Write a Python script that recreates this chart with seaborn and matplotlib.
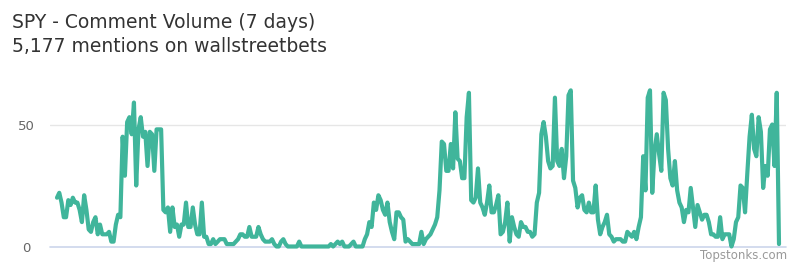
import numpy as np
import pandas as pd
import matplotlib
matplotlib.use("Agg")
import matplotlib.pyplot as plt
import seaborn as sns

title = "SPY - Comment Volume (7 days)"
subtitle = "5,177 mentions on wallstreetbets"
watermark = "Topstonks.com"
y_ticks = [0, 50]

seg_a = [20, 22, 18, 12, 12, 19, 17, 20, 18, 18, 15, 10, 21, 15, 7, 6, 10, 12, 5, 9,
         5, 5, 5, 6, 2, 2, 9, 13, 12, 45, 29, 51, 53, 46, 59, 25, 48, 53, 45, 47,
         33, 47, 46, 31, 48, 48, 48, 15]
seg_b = [14, 16, 6, 16, 8, 9, 4, 9, 9, 18, 8, 8, 16, 9, 5, 5, 18, 4, 4, 1,
         1, 3, 1, 2, 3, 3, 3, 1, 1, 1, 1, 2, 3, 5, 5, 4, 4, 8, 4, 4,
         4, 8, 5, 3, 2, 2, 2, 3, 1, 0, 0, 2, 3, 1, 0, 0, 0, 0, 0, 2]
seg_c = [0, 0, 0, 0, 0, 0, 0, 0, 0, 0, 0, 0, 0, 1, 0, 1, 2, 1, 2, 0, 0,
         0, 1, 2, 0, 0, 0, 0, 3, 5, 10, 8, 18, 15, 21, 19, 15, 13, 18, 10, 6,
         3, 14, 14, 12, 11, 2, 3]
seg_d = [2, 1, 1, 1, 1, 6, 1, 3, 4, 5, 7, 9, 12, 23, 43, 42, 31, 31, 42, 32, 55,
         36, 35, 28, 28, 53, 63, 19, 18, 20, 32, 18, 16, 13, 18, 25, 14, 14, 17, 21, 5,
         6, 10, 18, 2, 12, 8, 5, 4, 10, 8, 8, 6, 6, 4]
seg_e = [5, 18, 22, 46, 51, 45, 35, 32, 33, 61, 35, 33, 40, 28, 37, 62, 64, 27, 24, 16,
         20, 21, 15, 14, 18, 14, 14, 25, 11, 5, 8, 10, 13, 5, 4, 2, 3, 3, 3, 2,
         2, 6, 5, 4, 6, 3, 8, 12, 37, 23, 61, 64, 22]
seg_f = [39, 46, 38, 31, 63, 60, 40, 28, 25, 35, 23, 18, 16, 10, 15, 14, 24, 16, 8, 17,
         14, 11, 13, 13, 10, 5, 5, 4, 4, 12, 3, 5, 5, 5, 0, 3, 10, 12, 25, 24,
         14, 30, 45, 54, 40, 37, 53, 47, 24, 33, 29, 48, 50, 33, 63, 1]

mentions = seg_a + seg_b + seg_c + seg_d + seg_e + seg_f
hours = np.linspace(0, 168, len(mentions))
df = pd.DataFrame({"hours": hours, "mentions": mentions})

sns.set_style("white")
plt.rcParams['font.family'] = ['DejaVu Sans']

W, H = 800, 267
fig = plt.figure(figsize=(W / 100, H / 100), dpi=100)
x0, x1 = 50, 786
y0_px, y50_px = 246.5, 124.5
ppu = (y0_px - y50_px) / 50.0
ytop = 68
ax_top_px = y0_px - ytop * ppu
ax = fig.add_axes([x0 / W, (H - y0_px) / H, (x1 - x0) / W, (y0_px - ax_top_px) / H])

line_color = "#40b59b"
sns.lineplot(data=df, x="hours", y="mentions", ax=ax, color=line_color,
             linewidth=3.0, clip_on=False, solid_joinstyle="round", solid_capstyle="round")

pad = 168 * 7 / 722
ax.set_xlim(-pad, 168 + pad)
ax.set_ylim(0, ytop)
ax.set_xticks([])
ax.set_yticks(y_ticks)
ax.set_yticklabels([str(t) for t in y_ticks])
for lbl in ax.get_yticklabels():
    lbl.set_horizontalalignment("center")
ax.tick_params(axis="y", length=0, pad=17.3, labelsize=9.5, labelcolor="#666666")
ax.set_xlabel("")
ax.set_ylabel("")
for s in ax.spines.values():
    s.set_visible(False)
ax.axhline(50, color="#e6e6e6", linewidth=1, zorder=0)
ax.axhline(0, color="#ccd6eb", linewidth=1.2, zorder=0, clip_on=False)

fig.text(12 / W, 1 - 27.5 / H, title, fontsize=13.5, color="#333333", va="baseline", ha="left")
fig.text(12 / W, 1 - 52.5 / H, subtitle, fontsize=13.5, color="#333333", va="baseline", ha="left")
fig.text(787 / W, 1 - 259 / H, watermark, fontsize=8.5, color="#999999", va="baseline", ha="right")

fig.savefig("out.png", dpi=100)
